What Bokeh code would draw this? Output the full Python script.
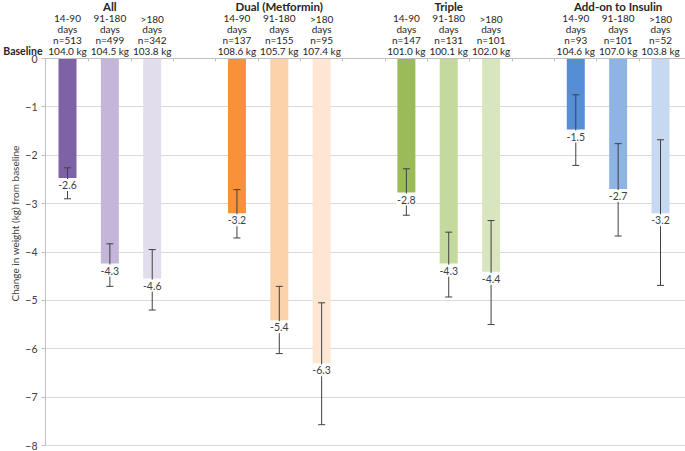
import math
from bokeh.plotting import figure
from bokeh.models import (ColumnDataSource, Range1d, LabelSet, Label, FixedTicker)
from bokeh.embed import file_html
from bokeh.resources import INLINE
from bokeh.core.properties import value

# ---------------- data ----------------
groups = ["All", "Dual (Metformin)", "Triple", "Add-on to Insulin"]
periods = ["14-90", "91-180", ">180"]
n_patients = [513, 499, 342, 137, 155, 95, 147, 131, 101, 93, 101, 52]
baseline_kg = [104.0, 104.5, 103.8, 108.6, 105.7, 107.4, 101.0, 100.1, 102.0, 104.6, 107.0, 103.8]
mean_change = [-2.6, -4.3, -4.6, -3.2, -5.4, -6.3, -2.8, -4.3, -4.4, -1.5, -2.7, -3.2]
bar_end = [-2.47, -4.24, -4.55, -3.2, -5.41, -6.3, -2.77, -4.24, -4.41, -1.47, -2.7, -3.2]
err_upper = [-2.26, -3.83, -3.95, -2.71, -4.71, -5.05, -2.28, -3.59, -3.35, -0.75, -1.76, -1.68]
err_lower = [-2.90, -4.71, -5.20, -3.71, -6.10, -7.57, -3.24, -4.93, -5.50, -2.21, -3.67, -4.69]
colors = ["#7e62a6", "#c3b6d8", "#e2dded",
          "#f7923a", "#fcd2aa", "#fde6d4",
          "#9bbb59", "#c4d99d", "#d9e5bf",
          "#558ed5", "#8eb4e3", "#c6d9f1"]
y_ticks = [0, -1, -2, -3, -4, -5, -6, -7, -8]

# ---------------- layout helpers ----------------
W, H = 685, 451
xs = [g * 4 + k for g in range(len(groups)) for k in range(len(periods))]
group_x = [g * 4 + 1 for g in range(len(groups))]
X_LEFT, X_RIGHT = -1.582, 14.59      # full canvas width in data units
PLOT_LEFT = -0.52                     # where the value axis sits
Y_BOTTOM, Y_TOP = -8.124, 1.199
PX = (Y_TOP - Y_BOTTOM) / H           # data units per screen pixel (vertical)
LABEL_GAP = 7                         # label centre below bar end, px

src = ColumnDataSource(dict(
    x=xs,
    y0=[0] * len(xs),
    bar_end=bar_end,
    label_y=[b - LABEL_GAP * PX for b in bar_end],
    upper=err_upper,
    lower=err_lower,
    color=colors,
    label=[f"{v:.1f}" for v in mean_change],
    period=periods * len(groups),
    days=["days"] * len(xs),
    n=[f"n={n}" for n in n_patients],
    base=[f"{b:.1f} kg" for b in baseline_kg],
))
gsrc = ColumnDataSource(dict(x=group_x, y0=[0] * len(groups), name=groups))

FONT = value("Lato")
TXT = "#262626"
ERR = "#404040"

p = figure(width=W, height=H, output_backend="svg", toolbar_location=None,
           x_range=Range1d(X_LEFT, X_RIGHT), y_range=Range1d(Y_BOTTOM, Y_TOP),
           x_axis_location="above",
           min_border_left=0, min_border_top=0, min_border_bottom=0,
           min_border_right=0)
p.outline_line_color = None
p.background_fill_color = "white"

# category axis along the zero line
p.xaxis.fixed_location = 0
p.xaxis.bounds = (PLOT_LEFT, X_RIGHT)
p.xaxis.ticker = FixedTicker(ticks=[i + 0.5 for i in range(14)])
p.xaxis.major_label_text_color = None
p.xaxis.axis_line_color = "#bfbfbf"
p.xaxis.major_tick_line_color = "#bfbfbf"
p.xaxis.major_tick_in = 3
p.xaxis.major_tick_out = 0
p.xaxis.minor_tick_line_color = None

# value axis
p.yaxis.fixed_location = PLOT_LEFT
p.yaxis.bounds = (-8, 0)
p.yaxis.ticker = FixedTicker(ticks=y_ticks)
p.yaxis.axis_line_color = "#bfbfbf"
p.yaxis.major_tick_line_color = "#bfbfbf"
p.yaxis.major_tick_in = 0
p.yaxis.major_tick_out = 4
p.yaxis.minor_tick_line_color = None
p.yaxis.major_label_standoff = 4
p.yaxis.major_label_text_font = "Lato"
p.yaxis.major_label_text_font_size = "10.5px"
p.yaxis.major_label_text_color = "#404040"

p.xgrid.visible = False
p.ygrid.ticker = FixedTicker(ticks=y_ticks)
p.ygrid.cross_bounds = (PLOT_LEFT, X_RIGHT)
p.ygrid.grid_line_color = "#d9d9d9"
p.ygrid.grid_line_width = 1

# bars
p.vbar(x="x", top=0, bottom="bar_end", width=0.425, fill_color="color",
       line_color=None, source=src)

# error bars (stem + caps)
p.segment(x0="x", y0="upper", x1="x", y1="lower", line_color=ERR,
          line_width=1, source=src)
p.scatter(x="x", y="upper", marker="dash", size=7, line_color=ERR,
          line_width=1, source=src)
p.scatter(x="x", y="lower", marker="dash", size=7, line_color=ERR,
          line_width=1, source=src)

# white box behind value labels (interrupts the error bar)
p.rect(x="x", y="label_y", width=20, height=12, width_units="screen",
       height_units="screen", fill_color="white", line_color=None, source=src)

# value labels
p.add_layout(LabelSet(x="x", y="label_y", text="label", source=src,
                      text_align="center", text_baseline="middle",
                      text_font=FONT, text_font_size="10.5px",
                      text_color="#404040"))

# header rows
for col, off in [("period", 40), ("days", 29.5), ("n", 19), ("base", 8)]:
    p.add_layout(LabelSet(x="x", y="y0", text=col, source=src, y_offset=off,
                          text_align="center", text_baseline="middle",
                          text_font=FONT, text_font_size="10px",
                          text_color=TXT))
p.add_layout(LabelSet(x="x", y="y0", text="name", source=gsrc, y_offset=52,
                      text_align="center", text_baseline="middle",
                      text_font=FONT, text_font_size="11.5px",
                      text_font_style="bold", text_color=TXT))
p.add_layout(Label(x=-0.59, y=0, y_offset=8, text="Baseline",
                   text_align="right", text_baseline="middle",
                   text_font="Lato", text_font_size="10.5px",
                   text_font_style="bold", text_color=TXT))

# y axis title
p.add_layout(Label(x=-1.228, y=-3.41, text="Change in weight (kg) from baseline",
                   angle=math.pi / 2, text_align="center", text_baseline="middle",
                   text_font="Lato", text_font_size="10px", text_color="#404040"))

open("out.html", "w").write(file_html(p, INLINE))
